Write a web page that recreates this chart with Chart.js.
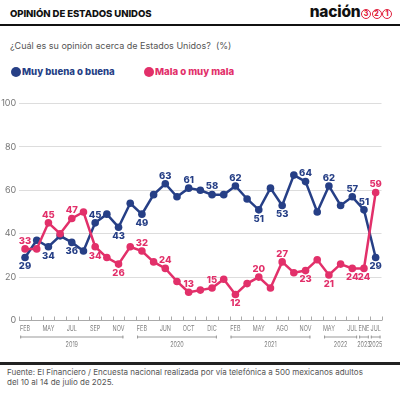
<!DOCTYPE html>
<html>
<head>
<meta charset="utf-8">
<script src="https://cdn.jsdelivr.net/npm/chart.js"></script>
<style>
  body { margin:0; width:400px; height:393px; background:#fff; font-family:Inter, "Open Sans", sans-serif; position:relative; overflow:hidden; }
  #titulo { position:absolute; left:10px; top:8px; font-size:9.6px; line-height:11px; font-weight:800; color:#111; letter-spacing:-0.1px; }
  #logo { position:absolute; right:8px; top:3px; font-size:15.5px; line-height:18px; font-weight:800; color:#111; letter-spacing:-0.2px; }
  #logo .c { display:inline-block; width:8px; height:8px; border:1.3px solid #e0203c; border-radius:50%; color:#e0203c; font-size:7px; line-height:8px; text-align:center; vertical-align:1px; margin-left:0.5px; letter-spacing:0; }
  #raya1 { position:absolute; left:0; top:24px; width:400px; height:2px; background:#111; }
  #sub { position:absolute; left:10px; top:39.5px; font-size:9px; line-height:12px; color:#555; }
  #leyenda { position:absolute; left:11px; top:66px; font-size:9.6px; line-height:12px; font-weight:800; }
  #leyenda span { position:absolute; white-space:nowrap; }
  #leyenda i { display:inline-block; width:10px; height:10px; border-radius:50%; vertical-align:-1.5px; margin-right:1px; }
  #caja { position:absolute; left:0; top:88px; width:400px; height:270px; }
  #raya2 { position:absolute; left:0; top:362px; width:400px; height:2.5px; background:#222; }
  #fuente { position:absolute; left:7px; top:366.5px; font-size:8px; line-height:10.6px; color:#555; }
</style>
</head>
<body>
<div id="titulo">OPINIÓN DE ESTADOS UNIDOS</div>
<div id="logo">nación<span class="c">3</span><span class="c">2</span><span class="c">1</span></div>
<div id="raya1"></div>
<div id="sub">¿Cuál es su opinión acerca de Estados Unidos?&nbsp; (%)</div>
<div id="leyenda">
  <span style="left:0;color:#263f86"><i style="background:#263f86"></i>Muy buena o buena</span>
  <span style="left:133px;color:#e2306a"><i style="background:#e2306a"></i>Mala o muy mala</span>
</div>
<div id="caja"><canvas id="grafica"></canvas></div>
<div id="raya2"></div>
<div id="fuente">Fuente: El Financiero / Encuesta nacional realizada por vía telefónica a 500 mexicanos adultos<br>del 10 al 14 de julio de 2025.</div>
<script>
var etiquetas = ["FEB","","MAY","","JUL","","SEP","","NOV","","FEB","","JUN","","OCT","","DIC","","FEB","","MAY","","AGO","","NOV","","MAY","","JUL","ENE","JUL"];
var buena = [29,37,34,39,36,32,45,49,43,54,49,58,63,57,61,60,58,58,62,56,51,61,53,67,64,50,62,53,57,51,29];
var mala  = [33,33,45,40,47,50,34,29,26,34,32,27,24,18,13,14,15,19,12,17,20,15,27,22,23,28,21,26,24,24,59];
var anios = ["2019","2020","2021","2022","2023","2025"];
var anioInicio = [0,10,18,26,29,30];
var anioFin = [8,16,24,28,29,30];

var azul = "#263f86", rosa = "#e2306a";

// donde va cada etiqueta de valor: a = arriba, b = abajo
var posBuena = {0:'b',2:'b',4:'b',6:'a',8:'b',10:'b',12:'a',14:'a',16:'a',18:'a',20:'b',22:'b',24:'a',26:'a',28:'a',29:'a',30:'b'};
var posMala  = {0:'a',2:'a',4:'a',6:'b',8:'b',10:'a',12:'a',14:'a',16:'a',18:'b',20:'a',22:'a',24:'b',26:'b',28:'b',29:'b',30:'a'};

// texto angosto (comprimido en horizontal)
function textoAngosto(ctx, t, x, y) {
  ctx.save();
  ctx.translate(x, y);
  ctx.scale(0.72, 1);
  ctx.fillText(t, 0, 0);
  ctx.restore();
}

var extras = {
  id: 'extras',
  afterDatasetsDraw(chart) {
    var ctx = chart.ctx;
    ctx.save();
    ctx.font = "800 9.5px Inter";
    ctx.textAlign = "center";
    ctx.textBaseline = "middle";
    [[0, posBuena, buena, azul], [1, posMala, mala, rosa]].forEach(function (s) {
      var meta = chart.getDatasetMeta(s[0]);
      ctx.fillStyle = s[3];
      Object.keys(s[1]).forEach(function (k) {
        var p = meta.data[k];
        var dy = s[1][k] === 'a' ? -8 : 9;
        ctx.fillText(s[2][k], p.x, p.y + dy);
      });
    });
    ctx.restore();
  },
  afterDraw(chart) {
    var ctx = chart.ctx, a = chart.chartArea, xs = chart.scales.x;
    var n = etiquetas.length, band = (a.right - a.left) / n;
    ctx.save();
    ctx.strokeStyle = "#aaa";
    ctx.lineWidth = 1;
    ctx.beginPath();
    for (var i = 0; i <= n; i++) {
      var px = Math.round(a.left + i * band) + 0.5;
      ctx.moveTo(px, a.bottom - 4);
      ctx.lineTo(px, a.bottom);
    }
    ctx.stroke();
    // meses
    ctx.font = "7.6px Inter";
    ctx.fillStyle = "#808080";
    ctx.textAlign = "center";
    ctx.textBaseline = "middle";
    etiquetas.forEach(function (t, i) {
      if (t) textoAngosto(ctx, t, xs.getPixelForValue(i), a.bottom + 8.5);
    });
    // años
    var yl = a.bottom + 16;
    ctx.strokeStyle = "#999";
    anios.forEach(function (t, k) {
      var x1 = xs.getPixelForValue(anioInicio[k]) - band / 2 + 1;
      var x2 = xs.getPixelForValue(anioFin[k]) + band / 2 - 1;
      ctx.beginPath();
      ctx.moveTo(x1, yl + 0.5); ctx.lineTo(x2, yl + 0.5);
      ctx.moveTo(x1 + 0.5, yl - 1); ctx.lineTo(x1 + 0.5, yl + 2);
      ctx.moveTo(x2 - 0.5, yl - 1); ctx.lineTo(x2 - 0.5, yl + 2);
      ctx.stroke();
      textoAngosto(ctx, t, (x1 + x2) / 2, yl + 8);
    });
    ctx.restore();
  }
};

new Chart("grafica", {
  type: "line",
  data: {
    labels: etiquetas,
    datasets: [
      { label: "Muy buena o buena", data: buena, borderColor: azul, backgroundColor: azul,
        borderWidth: 2.5, pointRadius: 3.8, pointBackgroundColor: azul, pointBorderWidth: 0, tension: 0, order: 2 },
      { label: "Mala o muy mala", data: mala, borderColor: rosa, backgroundColor: rosa,
        borderWidth: 2.5, pointRadius: 3.8, pointBackgroundColor: rosa, pointBorderWidth: 0, tension: 0, order: 1 }
    ]
  },
  options: {
    responsive: true,
    maintainAspectRatio: false,
    animation: false,
    layout: { padding: { top: 15.5, right: 18.5, left: 0, bottom: 0 } },
    plugins: { legend: { display: false }, tooltip: { enabled: false } },
    scales: {
      y: {
        min: 0, max: 100,
        ticks: { stepSize: 20, color: "#777", font: { size: 9, family: "Inter" }, padding: 3 },
        grid: { color: "#ddd", drawTicks: false },
        border: { display: false },
        afterFit: function (s) { s.width = 19.2; }
      },
      x: {
        offset: true,
        grid: { display: false, drawTicks: false },
        border: { display: true, color: "#aaa" },
        ticks: { display: false },
        afterFit: function (s) { s.height = 37.5; }
      }
    }
  },
  plugins: [extras]
});
</script>
</body>
</html>
